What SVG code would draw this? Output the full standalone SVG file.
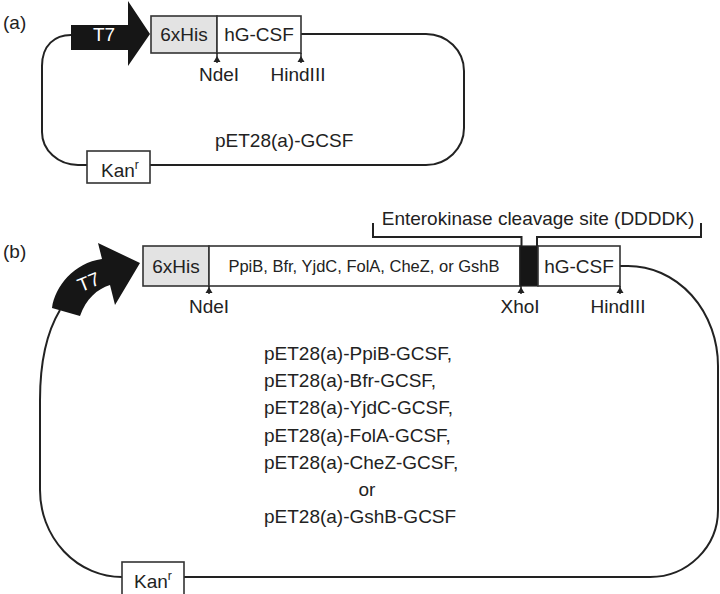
<svg xmlns="http://www.w3.org/2000/svg" width="720" height="594" viewBox="0 0 720 594">
<style>
text{font-family:"Liberation Sans",Arial,sans-serif;fill:#222;font-size:19px}
.c{text-anchor:middle}
.w{fill:#fff}
.sm{font-size:16.5px}
.box{fill:#fff;stroke:#333;stroke-width:1.6}
.his{fill:#e3e3e3;stroke:#333;stroke-width:1.6}
.ln{fill:none;stroke:#222;stroke-width:2}
.site{stroke:#222;stroke-width:1.5}
.tip{fill:#222}
</style>
<rect width="720" height="594" fill="#fff"/>

<!-- Panel (a) -->
<text x="3" y="29">(a)</text>
<g id="a-connectors">
  <path class="ln" d="M71,35 C55,35 42,45 42,66 V132 A36,33 0 0 0 78,165 H87"/>
  <path class="ln" d="M301,34 H426 A38,37 0 0 1 464,71 V128 A38,37 0 0 1 426,165 H150"/>
</g>
<g id="a-T7">
  <path d="M71,25 H128 V1 L150,34 L128,66 V50 H71 Z" fill="#161616"/>
  <text class="c w" x="104" y="41">T7</text>
</g>
<g id="a-6xHis">
  <rect class="his" x="151" y="16" width="66" height="37"/>
  <text class="c" x="184" y="41">6xHis</text>
</g>
<g id="a-hGCSF">
  <rect class="box" x="217" y="16" width="84" height="37"/>
  <text class="c" x="259" y="41">hG-CSF</text>
</g>
<g id="a-NdeI">
  <line class="site" x1="217" y1="53" x2="217" y2="63"/>
  <path class="tip" d="M213.5,62 L217,56 L220.5,62 Z"/>
  <text class="c" x="219" y="81">NdeI</text>
</g>
<g id="a-HindIII">
  <line class="site" x1="301" y1="53" x2="301" y2="63"/>
  <path class="tip" d="M297.5,62 L301,56 L304.5,62 Z"/>
  <text class="c" x="298" y="81">HindIII</text>
</g>
<g id="a-Kan">
  <rect class="box" x="87" y="151" width="63" height="32"/>
  <text x="101" y="177">Kan<tspan font-size="12" dy="-8">r</tspan></text>
</g>
<g id="a-name">
  <text x="215" y="147">pET28(a)-GCSF</text>
</g>

<!-- Panel (b) -->
<text x="3" y="258">(b)</text>
<g id="b-connectors">
  <path class="ln" d="M60,310 C48,330 40,360 40,400 V490 A82,87 0 0 0 122,577"/>
  <path class="ln" d="M620,266 H628 A90,100 0 0 1 718,366 V510 A68,67 0 0 1 650,577 H184"/>
</g>
<g id="b-T7">
  <path d="M52,308 C55,286 74,263 102,259 L98,243 L140,263 L115,305 L110,285 C97,289 86,299 80,316 Z" fill="#161616"/>
  <text class="c w" x="0" y="0" font-size="18" transform="translate(91,288) rotate(-22)">T7</text>
</g>
<g id="b-6xHis">
  <rect class="his" x="143" y="246" width="66" height="40"/>
  <text class="c" x="176" y="273">6xHis</text>
</g>
<g id="b-fusion">
  <rect class="box" x="209" y="246" width="311" height="40"/>
  <text class="c sm" x="364" y="272">PpiB, Bfr, YjdC, FolA, CheZ, or GshB</text>
</g>
<g id="b-EK">
  <rect x="520" y="246" width="18" height="40" fill="#161616" stroke="#222" stroke-width="1.2"/>
</g>
<g id="b-hGCSF">
  <rect class="box" x="538" y="246" width="82" height="40"/>
  <text class="c" x="579" y="273">hG-CSF</text>
</g>
<g id="b-EK-label">
  <path class="ln" d="M373,223 V237 H521.5 V246 M537,246 V237 H701 V223" stroke-width="2.2"/>
  <text class="c" x="538" y="225">Enterokinase cleavage site (DDDDK)</text>
</g>
<g id="b-NdeI">
  <line class="site" x1="209" y1="286" x2="209" y2="294"/>
  <path class="tip" d="M205.5,293 L209,287 L212.5,293 Z"/>
  <text class="c" x="209" y="313">NdeI</text>
</g>
<g id="b-XhoI">
  <line class="site" x1="521" y1="286" x2="521" y2="294"/>
  <path class="tip" d="M517.5,293 L521,287 L524.5,293 Z"/>
  <text class="c" x="520" y="313">XhoI</text>
</g>
<g id="b-HindIII">
  <line class="site" x1="620" y1="286" x2="620" y2="294"/>
  <path class="tip" d="M616.5,293 L620,287 L623.5,293 Z"/>
  <text class="c" x="618" y="313">HindIII</text>
</g>
<g id="b-Kan">
  <rect class="box" x="122" y="562" width="62" height="34"/>
  <text x="134" y="588">Kan<tspan font-size="12" dy="-8">r</tspan></text>
</g>
<g id="b-names">
  <text x="264" y="360">pET28(a)-PpiB-GCSF,</text>
  <text x="264" y="387">pET28(a)-Bfr-GCSF,</text>
  <text x="264" y="414">pET28(a)-YjdC-GCSF,</text>
  <text x="264" y="442">pET28(a)-FolA-GCSF,</text>
  <text x="264" y="469">pET28(a)-CheZ-GCSF,</text>
  <text class="c" x="367" y="496">or</text>
  <text x="264" y="523">pET28(a)-GshB-GCSF</text>
</g>
</svg>
